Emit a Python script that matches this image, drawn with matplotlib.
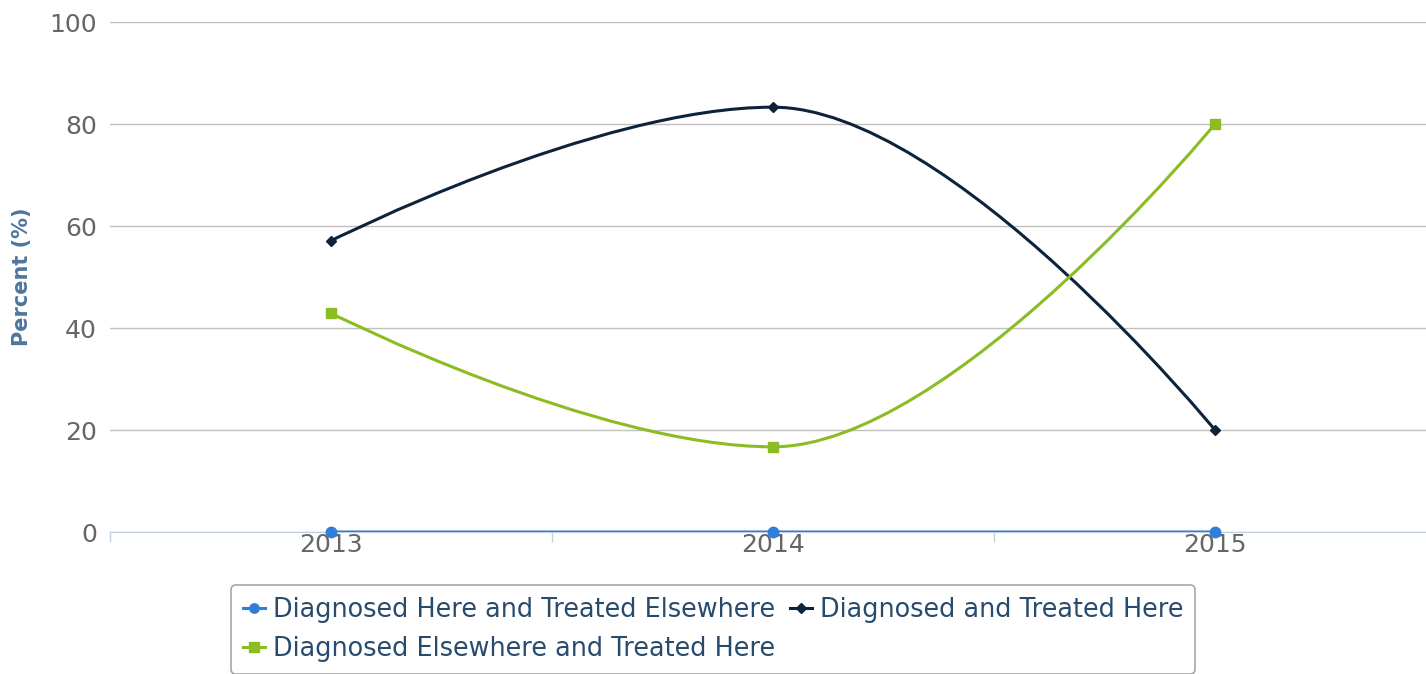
import matplotlib
matplotlib.use('Agg')
import matplotlib.pyplot as plt
from matplotlib.path import Path
from matplotlib.patches import PathPatch
from matplotlib.lines import Line2D

years = ['2013', '2014', '2015']
here_elsewhere = [0, 0, 0]
diag_treated_here = [57.1, 83.3, 20.0]
elsewhere_here = [42.9, 16.7, 80.0]

names = ['Diagnosed Here and Treated Elsewhere',
         'Diagnosed and Treated Here',
         'Diagnosed Elsewhere and Treated Here']
colors = ['#2f7ed8', '#0d233a', '#8bbc21']
markers = ['o', 'D', 's']
msizes = [7.5, 5.5, 7.5]


# spline like highcharts (smoothing 1.5)
def spline_path(xs, ys):
    n = len(xs)
    left = [None] * n
    right = [None] * n
    for i in range(1, n - 1):
        lx, ly = xs[i - 1], ys[i - 1]
        px, py = xs[i], ys[i]
        nx, ny = xs[i + 1], ys[i + 1]
        lcx = (1.5 * px + lx) / 2.5
        lcy = (1.5 * py + ly) / 2.5
        rcx = (1.5 * px + nx) / 2.5
        rcy = (1.5 * py + ny) / 2.5
        corr = (rcy - lcy) * (rcx - px) / (rcx - lcx) + py - rcy
        lcy += corr
        rcy += corr
        if lcy > ly and lcy > py:
            lcy = max(ly, py); rcy = 2 * py - lcy
        elif lcy < ly and lcy < py:
            lcy = min(ly, py); rcy = 2 * py - lcy
        if rcy > ny and rcy > py:
            rcy = max(ny, py); lcy = 2 * py - rcy
        elif rcy < ny and rcy < py:
            rcy = min(ny, py); lcy = 2 * py - rcy
        left[i] = (lcx, lcy)
        right[i] = (rcx, rcy)
    verts = [(xs[0], ys[0])]
    codes = [Path.MOVETO]
    for i in range(1, n):
        c1 = right[i - 1] or (xs[i - 1], ys[i - 1])
        c2 = left[i] or (xs[i], ys[i])
        verts += [c1, c2, (xs[i], ys[i])]
        codes += [Path.CURVE4] * 3
    return Path(verts, codes)


fig = plt.figure(figsize=(14.26, 6.74), dpi=100)
ax = fig.add_axes([110 / 1426, 1 - 532 / 674, 1326 / 1426, 510 / 674])

x = list(range(len(years)))
series = [here_elsewhere, diag_treated_here, elsewhere_here]
for k, ys in enumerate(series):
    ax.add_patch(PathPatch(spline_path(x, ys), fill=False, edgecolor=colors[k],
                           lw=2.2, zorder=3 + k, capstyle='round'))
    ax.plot(x, ys, ls='none', marker=markers[k], ms=msizes[k], color=colors[k],
            zorder=3.5 + k, clip_on=False)

ax.set_xlim(-0.5, 2.5)
ax.set_ylim(0, 100)
ax.set_yticks(range(0, 101, 20))
ax.set_xticks(x)
ax.set_xticklabels(years)
ax.set_xticks([-0.5, 0.5, 1.5, 2.5], minor=True)
ax.grid(axis='y', color='#c0c0c0', lw=1)
ax.set_axisbelow(True)
for s in ['top', 'right', 'left']:
    ax.spines[s].set_visible(False)
ax.spines['bottom'].set_color('#c0d0e0')
ax.tick_params(axis='y', length=0, pad=9.5, labelsize=18, labelcolor='#666666')
ax.tick_params(axis='x', which='major', length=0, pad=1, labelsize=18, labelcolor='#666666')
ax.tick_params(axis='x', which='minor', length=7, color='#c0d0e0', width=1)

fig.text(22 / 1426, 1 - 277 / 674, 'Percent (%)', rotation=90, ha='center', va='center',
         fontsize=15, fontweight='bold', color='#4d759e')

handles = [Line2D([], [], color=colors[k], lw=2.2, marker=markers[k], ms=msizes[k] * 0.9)
           for k in range(3)]
order = [0, 2, 1]
leg = fig.legend([handles[i] for i in order], [names[i] for i in order],
                 loc='upper center', bbox_to_anchor=(713 / 1426, 1 - 585 / 674),
                 ncol=2, fontsize=18.4, frameon=True, fancybox=True,
                 handlelength=0.86, handletextpad=0.31, columnspacing=0.59,
                 labelspacing=0.51, borderpad=0.47, borderaxespad=0)
leg.get_frame().set_edgecolor('#909090')
leg.get_frame().set_linewidth(1.2)
for t in leg.get_texts():
    t.set_color('#274b6d')

plt.savefig('out.png', dpi=100)
